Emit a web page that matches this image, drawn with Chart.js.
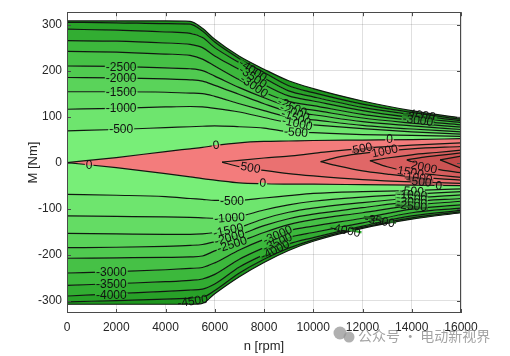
<!DOCTYPE html>
<html><head><meta charset="utf-8">
<script src="https://cdn.jsdelivr.net/npm/chart.js@4/dist/chart.umd.min.js"></script>
<style>html,body{margin:0;padding:0;background:#fff}#wrap{width:510px;height:356px}</style>
</head><body><div id="wrap"><canvas id="c" width="510" height="356"></canvas></div>
<script>
// ---- data (speed n in rpm, torque M in Nm) ----
const speeds = [0, 2000, 4000, 5000, 5500, 6000, 7000, 8000, 9000, 10000, 12000, 14000, 16000];
const xTicks = [0, 2000, 4000, 6000, 8000, 10000, 12000, 14000, 16000];
const yTicks = [-300, -200, -100, 0, 100, 200, 300];
const levelNames = ['0', '-500', '-1000', '-1500', '-2000', '-2500', '-3000', '-3500', '-4000', '-4500'];

// upper half (motoring) contour lines
const up0     = [0, 11, 24, 30, 33, 37, 43, 46, 47, 48, 49, 50, 52];
const upM500  = [69, 72, 76, 78, 79, 80, 78, 75, 67, 65, 61, 59, 57];
const upM1000 = [116, 118, 121, 122, 121, 118, 110, 98, 87, 82, 74, 67, 62];
const upM1500 = [154, 154, 153, 151, 150, 144, 128, 113, 99, 93, 81, 73, 67];
const upM2000 = [185, 184, 182, 180, 177, 168, 148, 128, 111, 104, 89, 80, 72];
const upM2500 = [210, 209, 206, 204, 200, 188, 163, 141, 122, 114, 97, 86, 77];
const upM3000 = [242, 240, 236, 233, 225, 210, 180, 153, 133, 124, 105, 92, 82];
const upM3500 = [265, 264, 260, 257, 250, 232, 202, 170, 145, 134, 113, 98, 87];
const upM4000 = [290, 288, 284, 281, 272, 250, 217, 184, 156, 143, 120, 104, 91];
const upM4500 = [305, 304, 302, 301, 286, 262, 226, 196, 167, 152, 127, 109, 94];
const upEdge  = [308, 308, 308, 307, 292, 268, 231, 203, 178, 161, 134, 113, 97];

// lower half (generating) contour lines
const lo0     = [0, -11, -24, -31, -35, -38, -44, -46, -47, -47, -48, -49, -50];
const loM500  = [-69, -71, -74, -78, -80, -82, -82, -77, -72, -67, -63, -61, -57];
const loM1000 = [-116, -117, -118, -119, -120, -121, -117, -103, -92, -84, -75, -69, -63];
const loM1500 = [-154, -155, -156, -156, -155, -152, -141, -122, -108, -99, -87, -77, -70];
const loM2000 = [-185, -184, -182, -180, -178, -172, -157, -137, -122, -112, -98, -85, -78];
const loM2500 = [-208, -207, -206, -205, -203, -192, -172, -152, -135, -124, -109, -93, -84];
const loM3000 = [-240, -237, -233, -230, -228, -218, -190, -167, -148, -138, -121, -101, -92];
const loM3500 = [-267, -263, -259, -256, -253, -243, -210, -185, -163, -152, -131, -109, -99];
const loM4000 = [-290, -285, -280, -277, -275, -264, -227, -200, -177, -163, -138, -116, -104];
const loM4500 = [-303, -300, -297, -295, -293, -278, -240, -210, -186, -168, -141, -120, -107];
const loEdge  = [-308, -308, -308, -308, -306, -285, -248, -217, -191, -171, -143, -123, -109];

// positive-level islands (red region)
const w500N  = [6300, 7000, 8000, 9000, 10000, 12000, 14000, 16000];
const w500Up = [1, 5, 10, 14, 20, 31, 38, 43];
const w500Lo = [1, -9, -17, -24, -29, -37, -42, -45];
const w1000N  = [10300, 11000, 12000, 13000, 14000, 16000];
const w1000Up = [2, 12, 20, 26, 30, 35];
const w1000Lo = [2, -7, -18, -25, -31, -38];
const w1500N  = [12300, 13000, 14000, 15000, 16000];
const w1500Up = [4, 10, 17, 22, 27];
const w1500Lo = [4, -9, -21, -27, -32];
const w2000N  = [13800, 14500, 15000, 16000];
const w2000Up = [6, 12, 15, 21];
const w2000Lo = [6, -8, -14, -22];
const w2500N  = [15150, 16000];
const w2500Up = [6, 14];
const w2500Lo = [6, -12];

// contour labels: text, n, M, rotation(deg)
const contourLabels = [
  ['-2500', 2200, 207, 0], ['-2000', 2200, 183, 0], ['-1500', 2200, 154, 0], ['-1000', 2200, 118, 0], ['-500', 2200, 72, 0],
  ['0', 900, -6, 0], ['0', 6050, 38, -7], ['500', 7450, -11, 9], ['0', 7950, -44, 3],
  ['-500', 6700, -83, 0], ['-1000', 6600, -120, -4], ['-1500', 6550, -147, -12], ['-2000', 6600, -163, -16], ['-2500', 6700, -178, -18],
  ['-3000', 8550, -157, -24], ['-3500', 8550, -174, -24], ['-4000', 8450, -190, -26],
  ['-4500', 5100, -301, -8],
  ['-3000', 1800, -238, 0], ['-3500', 1800, -265, 0], ['-4000', 1800, -288, 0],
  ['-4000', 7550, 201, 34], ['-3500', 7550, 186, 34], ['-3000', 7600, 166, 34],
  ['-2500', 9150, 121, 25], ['-2000', 9250, 109, 22], ['-1500', 9300, 97, 20], ['-1000', 9350, 85, 12], ['-500', 9300, 66, 4],
  ['-4000', 14350, 104, 8], ['-3500', 14300, 98, 8], ['-3000', 14250, 92, 8],
  ['0', 13100, 50, 0], ['500', 12000, 31, -12], ['1000', 12900, 25, -12],
  ['1500', 13950, -21, 10], ['2000', 14500, -10, 12], ['1000', 14300, -33, 7], ['500', 14400, -42, 5], ['0', 15100, -50, 3],
  ['-500', 14000, -62, 3], ['-1000', 14000, -70, 4], ['-1500', 14000, -78, 5], ['-2000', 14000, -86, 6], ['-2500', 14000, -94, 6],
  ['-4000', 11300, -147, 12], ['-3500', 12700, -127, 10]
];

// ---- styles ----
const FONT = '"Liberation Sans", Arial, sans-serif';
const LINE = '#101810';
const greens = ['#78ee78', '#6ee56e', '#64dc64', '#5ad35a', '#50ca50', '#46c146', '#3cb83c', '#32ad32', '#28a128', '#1e961e'];
const reds = ['#f37c7c', '#ea7171', '#e06767', '#d65d5d', '#cc5353', '#c24949'];

function mk(label, xs, ys, extra) {
  return Object.assign({
    label: label,
    data: xs.map((v, i) => ({x: v, y: ys[i]})),
    borderColor: LINE, borderWidth: 1.2, pointRadius: 0, pointHoverRadius: 0,
    fill: false, cubicInterpolationMode: 'monotone'
  }, extra || {});
}

const datasets = [];
const wedges = [[w2500N, w2500Up, w2500Lo, reds[5], '2500'], [w2000N, w2000Up, w2000Lo, reds[4], '2000'],
  [w1500N, w1500Up, w1500Lo, reds[3], '1500'], [w1000N, w1000Up, w1000Lo, reds[2], '1000'], [w500N, w500Up, w500Lo, reds[1], '500']];
wedges.forEach(w => {
  const i = datasets.length;
  datasets.push(mk(w[4] + ' up', w[0], w[1], {fill: i + 1, backgroundColor: w[3]}));
  datasets.push(mk(w[4] + ' lo', w[0], w[2]));
});
const upperLines = [up0, upM500, upM1000, upM1500, upM2000, upM2500, upM3000, upM3500, upM4000, upM4500, upEdge];
const lowerLines = [lo0, loM500, loM1000, loM1500, loM2000, loM2500, loM3000, loM3500, loM4000, loM4500, loEdge];
const upStart = datasets.length;
const loStart = upStart + upperLines.length;
upperLines.forEach((arr, k) => {
  const name = k < levelNames.length ? levelNames[k] : 'edge';
  if (k === 0) datasets.push(mk('up ' + name, speeds, arr, {fill: loStart, backgroundColor: reds[0]}));
  else datasets.push(mk('up ' + name, speeds, arr, {fill: '-1', backgroundColor: greens[k - 1]}));
});
lowerLines.forEach((arr, k) => {
  const name = k < levelNames.length ? levelNames[k] : 'edge';
  if (k === 0) datasets.push(mk('lo ' + name, speeds, arr));
  else datasets.push(mk('lo ' + name, speeds, arr, {fill: '-1', backgroundColor: greens[k - 1]}));
});

function lum(d) { return 0.3 * d[0] + 0.59 * d[1] + 0.11 * d[2]; }

const labelPlugin = {
  id: 'clabels',
  afterDatasetsDraw(chart) {
    const ctx = chart.ctx, xs = chart.scales.x, ys = chart.scales.y;
    ctx.save();
    ctx.font = '12px ' + FONT;
    const items = contourLabels.map(l => {
      const px = xs.getPixelForValue(l[1]), py = ys.getPixelForValue(l[2]);
      const r = l[3] * Math.PI / 180;
      const nx = -Math.sin(r), ny = Math.cos(r);
      const pick = (sgn) => {
        for (const d of [3.5, 2.5, 4.5, 5.5]) {
          const sx = Math.round(px + sgn * nx * d), sy = Math.round(py + sgn * ny * d);
          const p = ctx.getImageData(sx, sy, 1, 1).data;
          if (lum(p) > 70) return 'rgb(' + p[0] + ',' + p[1] + ',' + p[2] + ')';
        }
        return null;
      };
      return {t: l[0], px, py, r, above: pick(-1), below: pick(1), w: ctx.measureText(l[0]).width};
    });
    items.forEach(it => {
      ctx.save();
      ctx.translate(it.px, it.py);
      ctx.rotate(it.r);
      const w = it.w + 2;
      if (it.above) { ctx.fillStyle = it.above; ctx.fillRect(-w / 2, -2.5, w, 2.5); }
      if (it.below) { ctx.fillStyle = it.below; ctx.fillRect(-w / 2, 0, w, 2.5); }
      ctx.fillStyle = '#111';
      ctx.textAlign = 'center';
      ctx.textBaseline = 'middle';
      ctx.fillText(it.t, 0, 0.5);
      ctx.restore();
    });
    ctx.restore();
  }
};

const framePlugin = {
  id: 'frame',
  afterDraw(chart) {
    const ctx = chart.ctx, a = chart.chartArea, xs = chart.scales.x, ys = chart.scales.y;
    ctx.save();
    ctx.strokeStyle = '#4a4a4a';
    ctx.lineWidth = 1;
    ctx.strokeRect(Math.round(a.left) + 0.5, Math.round(a.top) + 0.5, Math.round(a.right - a.left) - 1, Math.round(a.bottom - a.top) - 1);
    ctx.beginPath();
    xTicks.forEach(v => {
      const px = Math.round(xs.getPixelForValue(v)) + 0.5;
      ctx.moveTo(px, a.bottom); ctx.lineTo(px, a.bottom - 4);
      ctx.moveTo(px, a.top); ctx.lineTo(px, a.top + 4);
    });
    yTicks.forEach(v => {
      const py = Math.round(ys.getPixelForValue(v)) + 0.5;
      ctx.moveTo(a.left, py); ctx.lineTo(a.left + 4, py);
      ctx.moveTo(a.right, py); ctx.lineTo(a.right - 4, py);
    });
    ctx.stroke();
    // watermark
    ctx.fillStyle = 'rgba(150,150,150,0.75)';
    ctx.beginPath(); ctx.arc(340, 333, 6.5, 0, Math.PI * 2); ctx.fill();
    ctx.beginPath(); ctx.arc(349, 337, 5.5, 0, Math.PI * 2); ctx.fill();
    ctx.font = '14px "Noto Sans CJK SC", sans-serif';
    ctx.fillStyle = 'rgba(140,140,140,0.8)';
    ctx.textBaseline = 'middle';
    ctx.fillText('公众号 · 电动新视界', 358, 336);
    ctx.restore();
  }
};

new Chart(document.getElementById('c'), {
  type: 'line',
  data: {datasets: datasets},
  plugins: [labelPlugin, framePlugin],
  options: {
    animation: false, responsive: false, events: [],
    layout: {padding: {left: 0, right: 49, top: 3, bottom: 0}},
    plugins: {
      legend: {display: false}, tooltip: {enabled: false},
      filler: {drawTime: 'beforeDatasetsDraw', propagate: false}
    },
    scales: {
      x: {
        type: 'linear', position: 'bottom', min: 0, max: 16000, z: 1,
        afterBuildTicks: s => { s.ticks = xTicks.map(v => ({value: v})); },
        ticks: {padding: 7, color: '#262626', font: {family: FONT, size: 12}, maxRotation: 0, autoSkip: false, callback: v => String(v)},
        grid: {color: 'rgba(0,0,0,0.12)', drawTicks: false},
        border: {display: false},
        title: {display: true, text: 'n [rpm]', color: '#262626', font: {family: FONT, size: 13}, padding: {top: 0, bottom: 2}},
        afterFit: s => { s.height = 43; }
      },
      y: {
        type: 'linear', position: 'left', min: -327, max: 327, z: 1,
        afterBuildTicks: s => { s.ticks = yTicks.map(v => ({value: v})); },
        ticks: {padding: 5, color: '#262626', font: {family: FONT, size: 12}, autoSkip: false, callback: v => String(v)},
        grid: {color: 'rgba(0,0,0,0.12)', drawTicks: false},
        border: {display: false},
        title: {display: true, text: 'M [Nm]', color: '#262626', font: {family: FONT, size: 13}, padding: {top: 26, bottom: 0}},
        afterFit: s => { s.width = 67; }
      }
    }
  }
});
</script>
</body></html>
